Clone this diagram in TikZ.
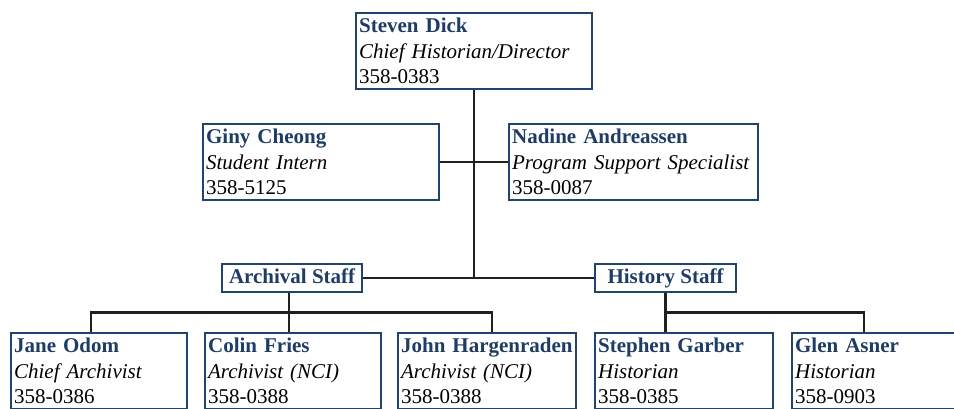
\documentclass[tikz,border=0pt]{standalone}
\usepackage{fontspec}
\setmainfont{Liberation Serif}
\usepackage{tikz}
\usetikzlibrary{calc,positioning}

\definecolor{boxblue}{RGB}{33,68,108}
\definecolor{nameblue}{RGB}{30,60,100}
\definecolor{linkgray}{RGB}{35,31,32}

\tikzset{
  person/.style={draw=boxblue,line width=2.2pt,anchor=north west,
    inner xsep=3pt,inner ysep=5pt,align=left,
    minimum width=#1pt,text width=#1pt-6pt,
    font=\fontsize{21}{25.5}\selectfont},
  group/.style={draw=boxblue,line width=2.2pt,anchor=north west,
    inner sep=0pt,minimum width=#1pt,minimum height=28.5pt,
    text height=15pt,text depth=4pt,text=nameblue,
    font=\fontsize{21}{25.5}\selectfont\bfseries},
  link/.style={draw=linkgray,line width=2.6pt}
}
\newcommand{\who}[3]{\mbox{\textcolor{nameblue}{\textbf{#1}}}\\\textit{#2}\\#3}

\begin{document}
\begin{tikzpicture}[x=1pt,y=-1pt]
  \useasboundingbox (0,0) rectangle (954,408);
  % director and staff office
  \node[person=236] (dick) at (355,12) {\who{Steven Dick}{Chief Historian/Director}{358-0383}};
  \node[person=236] (cheong) at (202,123) {\who{Giny Cheong}{Student Intern}{358-5125}};
  \node[person=249] (andreassen) at (508,123) {\who{Nadine Andreassen}{Program Support Specialist}{358-0087}};
  % the two groups
  \node[group=140] (archival) at (221,262.5) {Archival Staff};
  \node[group=141] (history) at (594,262.5) {History Staff};
  % archival staff
  \node[person=176] (odom) at (10,332) {\who{Jane Odom}{Chief Archivist}{358-0386}};
  \node[person=176] (fries) at (204,332) {\who{Colin Fries}{Archivist (NCI)}{358-0388}};
  \node[person=178] (hargenraden) at (397,332) {\who{John Hargenraden}{Archivist (NCI)}{358-0388}};
  % history staff
  \node[person=178] (garber) at (594,332) {\who{Stephen Garber}{Historian}{358-0385}};
  \node[person=178] (asner) at (791,332) {\who{Glen Asner}{Historian}{358-0903}};

  % connectors
  \draw[link] (dick.south) -- (dick.south |- archival.east);
  \draw[link] (cheong.east) -- (andreassen.west);
  \draw[link] (archival.east) -- (history.west);
  \path ([xshift=-3pt]archival.south) ++(0,19.5) coordinate (abus);
  \path (history.south) ++(0,19.5) coordinate (hbus);
  \draw[link] ([xshift=-3pt]archival.south) -- (abus |- fries.north);
  \draw[link] ([xshift=-8pt]odom.north) |- (abus) -| ([xshift=5pt]hargenraden.north);
  \draw[link] (history.south) -- (hbus |- garber.north);
  \draw[link] (hbus) -| ([xshift=-17pt]asner.north);
\end{tikzpicture}
\end{document}
